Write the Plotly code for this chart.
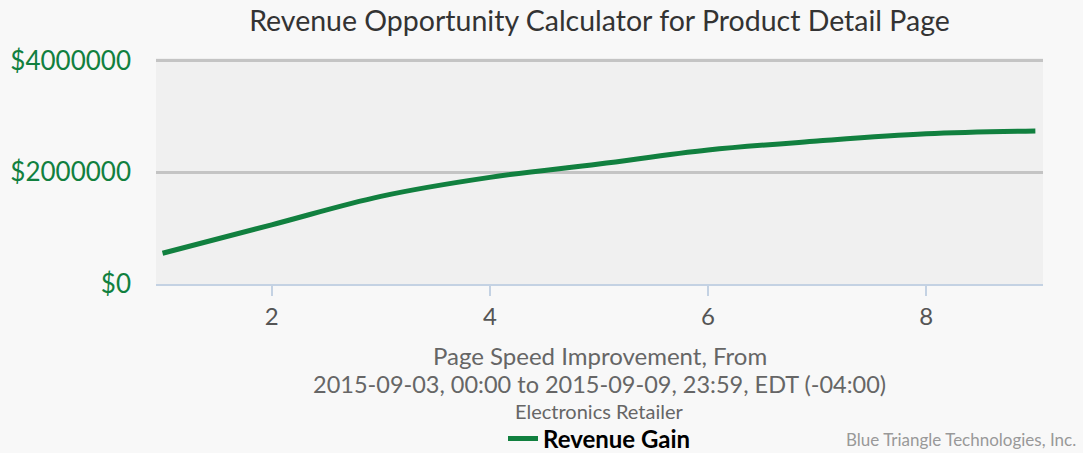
import plotly.graph_objects as go

improvement = [1, 2, 3, 4, 5, 6, 7, 8, 9]
revenue_gain = [550000, 1060000, 1570000, 1910000, 2150000, 2400000, 2560000, 2690000, 2740000]
y_ticks = [0, 2000000, 4000000]
y_tick_labels = [f"${v}" for v in y_ticks]
x_ticks = [2, 4, 6, 8]

FONT = "Lato"
GREEN = "#11803f"

fig = go.Figure()
fig.add_trace(go.Scatter(
    x=improvement, y=revenue_gain, mode="lines", line_shape="spline",
    line=dict(color=GREEN, width=5), name="<b>Revenue Gain</b>",
))

W, H = 1083, 453
L, R, T, B = 156, 40, 58, 169
ph = H - T - B

def py(pix):
    return 1 - (pix - T) / ph

fig.update_layout(
    width=W, height=H,
    margin=dict(l=L, r=R, t=T, b=B, autoexpand=False),
    paper_bgcolor="#f8f8f8", plot_bgcolor="#f0f0f0",
    font=dict(family=FONT, color="#555555"),
    title=dict(text="Revenue Opportunity Calculator for Product Detail Page",
               x=0.5, xref="paper", xanchor="center", y=1 - 21 / H, yanchor="middle",
               font=dict(family=FONT, size=28.5, color="#333333")),
    showlegend=True,
    legend=dict(orientation="h", x=0.5, xanchor="center", y=py(439), yanchor="middle",
                font=dict(family=FONT, size=24, color="#000000"), bgcolor="rgba(0,0,0,0)"),
    xaxis=dict(range=[0.94, 9.07], tickvals=x_ticks, showgrid=False, zeroline=False,
               showline=True, linecolor="#c4d2e3", linewidth=2,
               ticks="outside", ticklen=10, tickwidth=2, tickcolor="#c4d2e3",
               tickfont=dict(family=FONT, size=24, color="#555555")),
    yaxis=dict(range=[0, 4048000], tickvals=y_ticks, ticktext=y_tick_labels,
               showgrid=True, gridcolor="#c4c4c4", gridwidth=2.5, zeroline=False,
               ticklabelstandoff=24,
               tickfont=dict(family=FONT, size=26, color=GREEN)),
)

lines = [
    ("Page Speed Improvement, From", 355, 24),
    ("2015-09-03, 00:00 to 2015-09-09, 23:59, EDT (-04:00)", 384, 23.5),
    ("Electronics Retailer", 411, 20),
]
for text, ypix, size in lines:
    fig.add_annotation(text=text, xref="paper", yref="paper", x=0.5, y=py(ypix),
                       xanchor="center", yanchor="middle", showarrow=False,
                       font=dict(family=FONT, size=size, color="#666666"))

fig.add_annotation(text="Blue Triangle Technologies, Inc.", xref="paper", yref="paper",
                   x=1 + (1078 - 1043) / (W - L - R), y=py(439), xanchor="right", yanchor="middle",
                   showarrow=False, font=dict(family=FONT, size=17, color="#999999"))

fig.write_html("out.html", config={"displayModeBar": False},
               post_script="document.body.style.margin='0';document.body.style.background='#f8f8f8';")
